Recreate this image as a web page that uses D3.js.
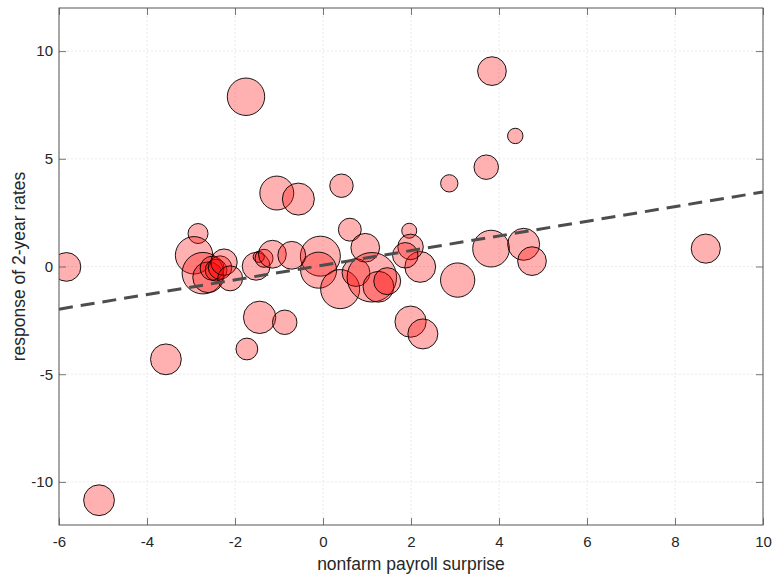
<!DOCTYPE html>
<html>
<head>
<meta charset="utf-8">
<script src="https://cdn.jsdelivr.net/npm/d3@7"></script>
<style>
  html, body { margin: 0; padding: 0; background: #fff; }
  svg { display: block; font-family: "Liberation Sans", Arial, Helvetica, sans-serif; }
</style>
</head>
<body>
<svg id="chart" width="772" height="579"></svg>
<script>
// ---- data ----
const surprise = [-1.75, -1.05, -0.56, 0.42, 0.61, 1.96, -2.84, -5.83, 3.84, 4.37,
  3.71, 2.87, 3.82, 4.56, 4.75, 8.70, 2.21, 3.06, 1.99, 1.87,
  -0.06, -0.10, 0.39, 0.75, 0.96, 1.11, 1.26, 1.46, -1.44, -0.87,
  -1.73, 1.99, 2.27, -3.57, -5.09, -2.93, -2.73, -2.61, -2.52, -2.43,
  -2.34, -2.25, -2.11, -1.52, -1.46, -1.34, -1.15, -0.71];
const response = [7.88, 3.41, 3.13, 3.75, 1.71, 1.66, 1.53, -0.02, 9.07, 6.06,
  4.61, 3.86, 0.83, 1.03, 0.25, 0.83, -0.02, -0.63, 0.91, 0.52,
  0.48, -0.17, -1.05, -0.28, 0.87, -0.50, -0.94, -0.68, -2.36, -2.59,
  -3.83, -2.56, -3.13, -4.31, -10.85, 0.52, -0.31, -0.50, -0.08, -0.17,
  -0.05, 0.20, -0.55, 0.01, 0.45, 0.38, 0.57, 0.52];
const weight = [56, 46, 41, 22, 21, 9, 16, 33, 33, 9.5,
  24, 12, 54, 41, 33, 34, 38, 47, 26, 26,
  64, 52, 61, 31, 33, 98, 38, 29, 42, 24,
  19, 39, 36, 38, 38, 56, 69, 38, 23, 19,
  22, 28, 25, 31, 5, 13, 31, 31];
const fitIntercept = 0.06;
const fitSlope = 0.34;
const xTicks = [-6, -4, -2, 0, 2, 4, 6, 8, 10];
const yTicks = [-10, -5, 0, 5, 10];
const xDomain = [-6, 10];
const yDomain = [-12, 12];
const xLabel = "nonfarm payroll surprise";
const yLabel = "response of 2-year rates";

// ---- layout ----
const W = 772, H = 579;
const margin = { top: 8, right: 9, bottom: 54, left: 59 };
const iw = W - margin.left - margin.right;
const ih = H - margin.top - margin.bottom;

const svg = d3.select("#chart");
const g = svg.append("g").attr("transform", `translate(${margin.left},${margin.top})`);

const x = d3.scaleLinear().domain(xDomain).range([0, iw]);
const y = d3.scaleLinear().domain(yDomain).range([ih, 0]);
const r = d3.scaleSqrt().domain([0, 100]).range([0, 25]);

// grid
const grid = g.append("g").attr("class", "grid");
grid.selectAll("line.gx").data(xTicks).join("line")
  .attr("x1", d => x(d)).attr("x2", d => x(d))
  .attr("y1", 0).attr("y2", ih)
  .attr("stroke", "#e3e3e3").attr("stroke-width", 0.8).attr("stroke-dasharray", "2,2");
grid.selectAll("line.gy").data(yTicks).join("line")
  .attr("x1", 0).attr("x2", iw)
  .attr("y1", d => y(d)).attr("y2", d => y(d))
  .attr("stroke", "#e3e3e3").attr("stroke-width", 0.8).attr("stroke-dasharray", "2,2");

// bubbles
const data = surprise.map((d, i) => ({ x: d, y: response[i], w: weight[i] }));
svg.append("defs").append("clipPath").attr("id", "clip")
  .append("rect").attr("width", iw).attr("height", ih);
g.append("g").attr("clip-path", "url(#clip)")
  .selectAll("circle").data(data).join("circle")
  .attr("cx", d => x(d.x)).attr("cy", d => y(d.y)).attr("r", d => r(d.w))
  .attr("fill", "rgba(255,0,0,0.31)")
  .attr("stroke", "#000").attr("stroke-width", 0.9);

// fit line
const line = d3.line().x(d => x(d)).y(d => y(fitIntercept + fitSlope * d));
g.append("path").datum(xDomain)
  .attr("d", line)
  .attr("fill", "none").attr("stroke", "#4d4d4d").attr("stroke-width", 3)
  .attr("stroke-dasharray", "14,8");

// axes
const tickColor = "#555";
const textColor = "#262626";
const fmt = d => String(d);
function style(sel) {
  sel.select(".domain").remove();
  sel.selectAll(".tick line").attr("stroke", tickColor).attr("stroke-width", 0.8);
  sel.selectAll(".tick text").attr("fill", textColor).style("font-size", "15px");
}
g.append("g").attr("transform", `translate(0,${ih})`)
  .call(d3.axisBottom(x).tickValues(xTicks).tickSize(-7).tickPadding(11).tickFormat(fmt))
  .call(style);
g.append("g")
  .call(d3.axisLeft(y).tickValues(yTicks).tickSize(-7).tickPadding(6).tickFormat(fmt))
  .call(style);
g.append("g")
  .call(d3.axisTop(x).tickValues(xTicks).tickSize(-7).tickFormat(""))
  .call(style);
g.append("g").attr("transform", `translate(${iw},0)`)
  .call(d3.axisRight(y).tickValues(yTicks).tickSize(-7).tickFormat(""))
  .call(style);

// box
g.append("rect").attr("width", iw).attr("height", ih)
  .attr("fill", "none").attr("stroke", tickColor).attr("stroke-width", 1);

// labels
svg.append("text")
  .attr("x", margin.left + iw / 2).attr("y", 570)
  .attr("text-anchor", "middle").attr("fill", textColor)
  .style("font-size", "17.5px").text(xLabel);
svg.append("text")
  .attr("transform", `translate(24.5,${margin.top + ih / 2}) rotate(-90)`)
  .attr("text-anchor", "middle").attr("fill", textColor)
  .style("font-size", "17.5px").text(yLabel);
</script>
</body>
</html>
